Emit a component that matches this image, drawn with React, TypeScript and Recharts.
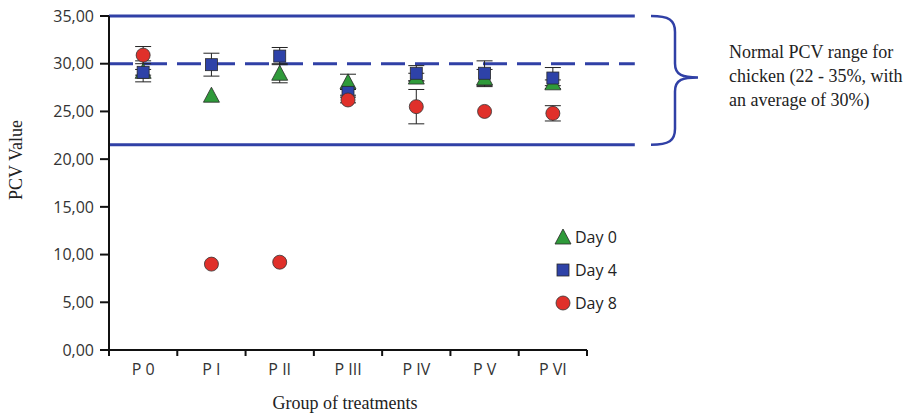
import { ComposedChart, Scatter, XAxis, YAxis, ErrorBar, ReferenceLine } from "recharts"

const categories = ["P 0", "P I", "P II", "P III", "P IV", "P V", "P VI"]
const day0 = [29.2, 26.7, 29.0, 28.1, 28.6, 28.5, 28.0]
const day4 = [29.1, 29.9, 30.8, 27.0, 29.0, 29.0, 28.5]
const day8 = [30.9, 9.0, 9.2, 26.2, 25.5, 25.0, 24.8]
const day0Err = [1.1, 0, 1.0, 0.8, 0.4, 0.9, 0.3]
const day4Err = [0.3, 1.2, 0.9, 0.3, 0.8, 1.3, 1.1]
const day8Err = [0.9, 0, 0, 0.3, 1.8, 0, 0.8]
const seriesNames = ["Day 0", "Day 4", "Day 8"]
const yTicks = [0, 5, 10, 15, 20, 25, 30, 35]
const normalRange = { low: 21.5, mean: 30, high: 35 }
const noteLines = ["Normal PCV range for", "chicken (22 - 35%, with", "an average of 30%)"]

const W = 917
const H = 417
const LEFT = 109
const TOP = 16
const PLOT_H = 334
const PLOT_W = 478
const BAND = PLOT_W / categories.length
const BLUE = "#3040a6"
const SERIF = "'Liberation Serif', 'Times New Roman', serif"
const SANS = "'Open Sans', sans-serif"

const toSeries = (vals: number[], errs: number[]) =>
  vals.map((v, i) => ({ x: i + 0.5, y: v, err: errs[i] }))

const yPix = (v: number) => TOP + PLOT_H * (1 - v / 35)

const tri = (cx: number, cy: number) => (
  <path d={`M${cx},${cy - 8} L${cx + 8},${cy + 7} L${cx - 8},${cy + 7} Z`} fill="#2f9a3a" stroke="#2a2a2a" strokeWidth={0.8} />
)
const sq = (cx: number, cy: number) => (
  <rect x={cx - 6} y={cy - 6} width={12} height={12} fill="#2e42a8" stroke="#2a2a2a" strokeWidth={0.8} />
)
const circ = (cx: number, cy: number) => <circle cx={cx} cy={cy} r={7} fill="#e0302a" stroke="#333" strokeWidth={0.8} />

const Triangle = (p: any) => tri(p.cx, p.cy)
const Square = (p: any) => sq(p.cx, p.cy)
const Circle = (p: any) => circ(p.cx, p.cy)

const XTick = (p: any) => {
  const i = p.payload.value
  if (i >= categories.length) return null
  return (
    <text x={p.x + BAND / 2} y={p.y + 17} textAnchor="middle" fontSize={16} fill="#333" fontFamily={SANS}>
      {categories[i]}
    </text>
  )
}

export default function App() {
  const brTop = yPix(normalRange.high)
  const brBot = yPix(normalRange.low)
  const brMid = (brTop + brBot) / 2 - 3
  const bx = 651
  const markers = [tri, sq, circ]
  return (
    <div style={{ position: "absolute", left: 0, top: 0, width: W, height: H, background: "#fff" }}>
      <ComposedChart width={W} height={H} margin={{ top: TOP, right: W - LEFT - PLOT_W, bottom: 0, left: 0 }}>
        <XAxis
          type="number"
          dataKey="x"
          domain={[0, 7]}
          ticks={[0, 1, 2, 3, 4, 5, 6, 7]}
          height={67}
          tick={<XTick />}
          tickSize={6}
          stroke="#111"
          strokeWidth={2}
          allowDataOverflow
        />
        <YAxis
          type="number"
          domain={[0, 35]}
          ticks={yTicks}
          width={LEFT}
          tickSize={9}
          tickMargin={6}
          stroke="#111"
          strokeWidth={2}
          tick={{ fontSize: 16, fill: "#333", fontFamily: SANS }}
          tickFormatter={(v: number) => v.toFixed(2).replace(".", ",")}
        />
        <ReferenceLine segment={[{ x: 0, y: normalRange.high }, { x: 7.7, y: normalRange.high }]} stroke={BLUE} strokeWidth={3} ifOverflow="visible" />
        <ReferenceLine segment={[{ x: 0, y: normalRange.mean }, { x: 7.7, y: normalRange.mean }]} stroke={BLUE} strokeWidth={3} strokeDasharray="24 10" ifOverflow="visible" />
        <ReferenceLine segment={[{ x: 0, y: normalRange.low }, { x: 7.7, y: normalRange.low }]} stroke={BLUE} strokeWidth={3} ifOverflow="visible" />
        <Scatter name={seriesNames[0]} data={toSeries(day0, day0Err)} dataKey="y" shape={<Triangle />} isAnimationActive={false}>
          <ErrorBar dataKey="err" direction="y" width={8} stroke="#222" strokeWidth={1} />
        </Scatter>
        <Scatter name={seriesNames[1]} data={toSeries(day4, day4Err)} dataKey="y" shape={<Square />} isAnimationActive={false}>
          <ErrorBar dataKey="err" direction="y" width={8} stroke="#222" strokeWidth={1} />
        </Scatter>
        <Scatter name={seriesNames[2]} data={toSeries(day8, day8Err)} dataKey="y" shape={<Circle />} isAnimationActive={false}>
          <ErrorBar dataKey="err" direction="y" width={8} stroke="#222" strokeWidth={1} />
        </Scatter>
      </ComposedChart>
      <svg width={W} height={H} style={{ position: "absolute", left: 0, top: 0, pointerEvents: "none" }}>
        {seriesNames.map((name, i) => (
          <g key={name}>
            {markers[i](563, 237 + i * 33)}
            <text x={575} y={243 + i * 33} fontSize={16} fill="#222" fontFamily={SANS}>
              {name}
            </text>
          </g>
        ))}
        <path
          d={`M${bx},${brTop} C${bx + 18},${brTop} ${bx + 24},${brTop + 4} ${bx + 24},${brTop + 16} L${bx + 24},${brMid - 14} C${bx + 24},${brMid - 2} ${bx + 32},${brMid} ${bx + 47},${brMid} C${bx + 32},${brMid} ${bx + 24},${brMid + 2} ${bx + 24},${brMid + 14} L${bx + 24},${brBot - 16} C${bx + 24},${brBot - 4} ${bx + 18},${brBot} ${bx},${brBot}`}
          fill="none"
          stroke={BLUE}
          strokeWidth={2.5}
        />
        <text fontSize={18} fill="#222" fontFamily={SERIF}>
          {noteLines.map((l, i) => (
            <tspan key={l} x={729} y={58 + i * 24}>
              {l}
            </tspan>
          ))}
        </text>
        <text x={22} y={160} transform="rotate(-90 22 160)" textAnchor="middle" fontSize={18} fill="#222" fontFamily={SERIF}>
          PCV Value
        </text>
        <text x={345} y={409} textAnchor="middle" fontSize={18} fill="#222" fontFamily={SERIF}>
          Group of treatments
        </text>
      </svg>
    </div>
  )
}
